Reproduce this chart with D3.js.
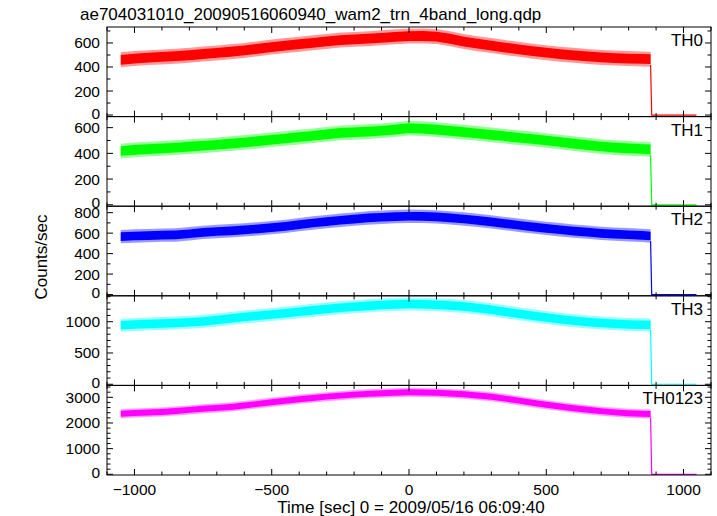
<!DOCTYPE html>
<html><head><meta charset="utf-8">
<script src="https://cdn.jsdelivr.net/npm/d3@7"></script>
<style>body{margin:0;background:#fff}svg{display:block}text{font-family:"Liberation Sans",Arial,Helvetica,sans-serif}</style>
</head><body><div id="chart"></div>
<script>
const title = "ae704031010_20090516060940_wam2_trn_4band_long.qdp";
const xLabel = "Time [sec] 0 = 2009/05/16 06:09:40";
const yLabel = "Counts/sec";
const bands = ["TH0","TH1","TH2","TH3","TH0123"];
const colors = ["#ff0000","#00ff00","#0000ff","#00ffff","#ff00ff"];
const times = [-1050,-1000,-950,-900,-850,-800,-750,-700,-650,-600,-550,-500,-450,-400,-350,-300,-250,-200,-150,-100,-50,0,50,100,150,200,250,300,350,400,450,500,550,600,650,700,750,800,850,880];
const th0 = [460,470,478,484,490,498,508,517,527,538,552,566,578,590,601,613,624,630,636,643,651,657,658,653,635,612,594,578,562,547,532,519,507,497,488,480,474,470,467,465];
const th1 = [418,427,433,439,444,452,459,467,476,485,495,506,516,527,537,548,559,564,569,576,585,596,592,585,575,565,555,544,533,522,512,500,488,476,464,453,445,439,434,431];
const th2 = [565,572,576,580,582,594,608,616,623,631,642,653,666,683,699,713,726,737,748,755,761,765,763,759,749,738,725,710,693,677,661,646,633,620,609,598,590,584,578,572];
const th3 = [945,955,963,971,980,992,1005,1028,1050,1074,1094,1115,1137,1159,1181,1203,1222,1238,1253,1266,1277,1283,1280,1272,1260,1243,1218,1190,1160,1127,1094,1066,1038,1016,997,981,968,957,950,946];
const th0123 = [2360,2390,2410,2430,2465,2510,2552,2588,2625,2680,2745,2805,2865,2925,2975,3025,3065,3105,3135,3160,3180,3195,3190,3175,3150,3120,3070,3020,2950,2870,2790,2710,2640,2575,2515,2460,2415,2380,2360,2350];
const spreads = [48,44,50,80,135];
const tailTimes = [884,1047];
const tailValues = [0,0];
const yDomains = [[-13,733],[-11,686],[-12,863],[-18,1414],[-27,3464]];
const yMajor = [200,200,200,500,1000];
const yMinor = [100,100,100,100,200];
const yTickMax = [600,600,800,1000,3000];
const xTicksMajor = [-1000,-500,0,500,1000];
const series = [th0,th1,th2,th3,th0123];

const W=717,H=516, L=107, R=711, T=27, B=475;
const ph=(B-T)/5;
const svg=d3.select("#chart").append("svg").attr("width",W).attr("height",H);
const x=d3.scaleLinear().domain([-1100,1100]).range([L,R]);
const minorX=d3.range(-1100,1101,100);

svg.append("text").attr("x",80).attr("y",20).attr("font-size",17).text(title);

series.forEach((vals,i)=>{
  const top=T+i*ph, bot=top+ph;
  const y=d3.scaleLinear().domain(yDomains[i]).range([bot,top]);
  const g=svg.append("g");
  const cid="clip"+i;
  svg.append("clipPath").attr("id",cid).append("rect").attr("x",L).attr("y",top).attr("width",R-L).attr("height",ph);
  const pts=times.map((t,k)=>({t,v:vals[k]}));
  const s=spreads[i];
  const dg=g.append("g").attr("clip-path",`url(#${cid})`);
  dg.append("path").datum(pts)
    .attr("d",d3.area().x(d=>x(d.t)).y0(d=>y(d.v-s*1.3)).y1(d=>y(d.v+s*1.3)))
    .attr("fill",colors[i]).attr("opacity",0.4);
  dg.append("path").datum(pts)
    .attr("d",d3.area().x(d=>x(d.t)).y0(d=>y(d.v-s*0.85)).y1(d=>y(d.v+s*0.85)))
    .attr("fill",colors[i]);
  const last=pts[pts.length-1];
  const tail=[{t:last.t,v:last.v-s},{t:tailTimes[0],v:tailValues[0]},{t:tailTimes[1],v:tailValues[1]}];
  dg.append("path").datum(tail)
    .attr("d",d3.line().x(d=>x(d.t)).y(d=>y(d.v)))
    .attr("fill","none").attr("stroke",colors[i]).attr("stroke-width",1.2);
  g.append("rect").attr("x",L).attr("y",top).attr("width",R-L).attr("height",ph)
    .attr("fill","none").attr("stroke","#000").attr("stroke-width",1);
  minorX.forEach(v=>{
    const major=xTicksMajor.includes(v);
    const len=major?6:3.5;
    g.append("line").attr("x1",x(v)).attr("x2",x(v)).attr("y1",bot).attr("y2",bot-len).attr("stroke","#000");
    g.append("line").attr("x1",x(v)).attr("x2",x(v)).attr("y1",top).attr("y2",top+len).attr("stroke","#000");
  });
  const minorY=d3.range(0,yDomains[i][1]+1,yMinor[i]);
  minorY.forEach(v=>{
    const major=v%yMajor[i]===0;
    const len=major?6:3.5;
    g.append("line").attr("x1",L).attr("x2",L+len).attr("y1",y(v)).attr("y2",y(v)).attr("stroke","#000");
    g.append("line").attr("x1",R).attr("x2",R-len).attr("y1",y(v)).attr("y2",y(v)).attr("stroke","#000");
  });
  d3.range(0,yTickMax[i]+1,yMajor[i]).forEach(v=>{
    g.append("text").attr("x",100).attr("y",y(v)+(v===0?3.5:5.5)).attr("text-anchor","end").attr("font-size",15.5).text(v);
  });
  g.append("text").attr("x",703).attr("y",top+19).attr("text-anchor","end").attr("font-size",17).text(bands[i]);
});

xTicksMajor.forEach(v=>{
  svg.append("text").attr("x",x(v)).attr("y",495).attr("text-anchor","middle").attr("font-size",15.5)
    .text(v<0?"\u2212"+Math.abs(v):v);
});
svg.append("text").attr("x",411).attr("y",513).attr("text-anchor","middle").attr("font-size",17).text(xLabel);
svg.append("text").attr("transform","translate(47,257) rotate(-90)").attr("text-anchor","middle").attr("font-size",17).text(yLabel);
</script></body></html>
